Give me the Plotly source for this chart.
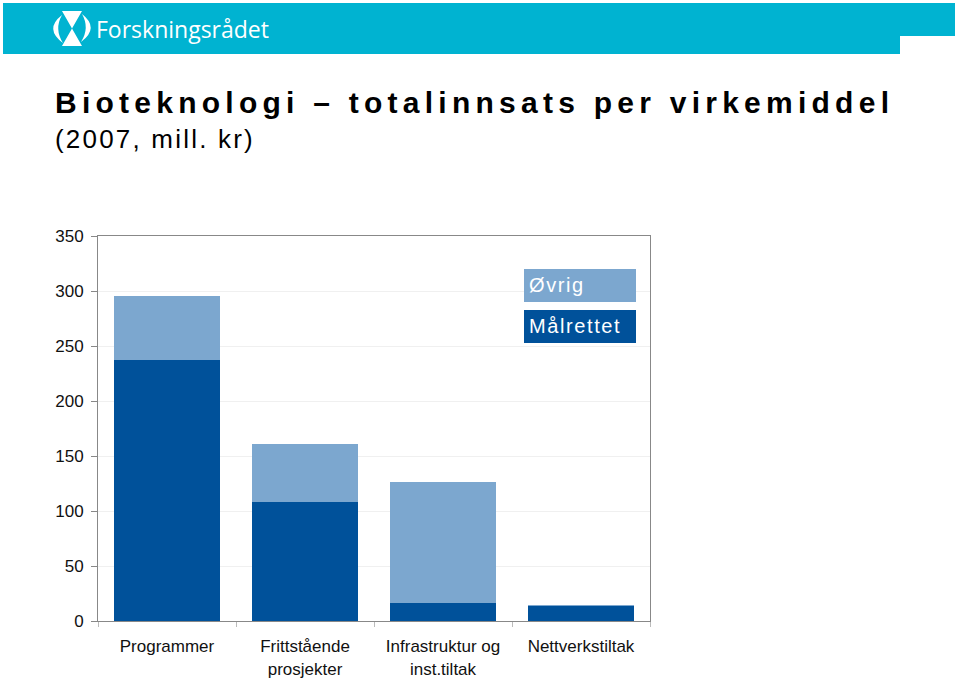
import plotly.graph_objects as go

# ---- data ----
categories = ["Programmer", "Frittstående<br>prosjekter", "Infrastruktur og<br>inst.tiltak", "Nettverkstiltak"]
malrettet = [237, 108, 16.5, 14]
ovrig = [58.5, 53, 110, 0.5]
series_names = ["Målrettet", "Øvrig"]
y_ticks = [0, 50, 100, 150, 200, 250, 300, 350]

DARK = "#00519A"
LIGHT = "#7CA7CF"
CYAN = "#00B3D1"
FONT = "Liberation Sans, Arial, sans-serif"

W, H = 960, 679
L, R, T, B = 98, 310, 236, 58
PW, PH = W - L - R, H - T - B


def px(x):
    return (x - L) / PW


def py(y):
    return (H - B - y) / PH


fig = go.Figure()
fig.add_trace(go.Bar(x=categories, y=malrettet, name=series_names[0], marker=dict(color=DARK, line=dict(width=0))))
fig.add_trace(go.Bar(x=categories, y=ovrig, name=series_names[1], marker=dict(color=LIGHT, line=dict(width=0))))

shapes = []
# header band with notch
pts = [(3, 3), (955, 3), (955, 36), (900, 36), (900, 54), (3, 54)]
path = "M " + " L ".join(f"{px(a):.5f},{py(b):.5f}" for a, b in pts) + " Z"
shapes.append(dict(type="path", xref="paper", yref="paper", path=path, fillcolor=CYAN, line=dict(width=0), layer="above"))

# logo icon (hourglass + arcs)
hg = [(62, 11), (82, 11), (72, 28.5), (82, 46), (62, 46), (72, 28.5)]
path = "M " + " L ".join(f"{px(a):.5f},{py(b):.5f}" for a, b in hg) + " Z"
shapes.append(dict(type="path", xref="paper", yref="paper", path=path, fillcolor="white", line=dict(width=0), layer="above"))
la = f"M {px(62):.5f},{py(15):.5f} Q {px(44):.5f},{py(29):.5f} {px(63):.5f},{py(43):.5f} Q {px(54):.5f},{py(29):.5f} {px(62):.5f},{py(15):.5f} Z"
ra = f"M {px(82):.5f},{py(14):.5f} Q {px(100):.5f},{py(28):.5f} {px(81):.5f},{py(42):.5f} Q {px(90):.5f},{py(28):.5f} {px(82):.5f},{py(14):.5f} Z"
for p in (la, ra):
    shapes.append(dict(type="path", xref="paper", yref="paper", path=p, fillcolor="white", line=dict(width=0), layer="above"))

# legend boxes
shapes.append(dict(type="rect", xref="paper", yref="paper", x0=px(524), x1=px(636), y0=py(302), y1=py(269),
                   fillcolor=LIGHT, line=dict(width=0), layer="above"))
shapes.append(dict(type="rect", xref="paper", yref="paper", x0=px(524), x1=px(636), y0=py(343), y1=py(310),
                   fillcolor=DARK, line=dict(width=0), layer="above"))

annotations = [
    dict(text="Forskningsrådet", x=px(94), y=py(29), xref="paper", yref="paper", xanchor="left", yanchor="middle",
         showarrow=False, align="left", font=dict(family="Open Sans, sans-serif", size=23, color="white")),
    dict(text="<b>Bioteknologi – totalinnsats per virkemiddel</b>", x=px(53), y=py(102), xref="paper", yref="paper",
         xanchor="left", yanchor="middle", showarrow=False, align="left", font=dict(family=FONT, size=30, color="black")),
    dict(text="(2007, mill. kr)", x=px(53), y=py(139), xref="paper", yref="paper",
         xanchor="left", yanchor="middle", showarrow=False, align="left", font=dict(family=FONT, size=26, color="black")),
    dict(text=series_names[1], x=px(527), y=py(285), xref="paper", yref="paper",
         xanchor="left", yanchor="middle", showarrow=False, align="left", font=dict(family=FONT, size=20, color="white")),
    dict(text=series_names[0], x=px(527), y=py(326), xref="paper", yref="paper",
         xanchor="left", yanchor="middle", showarrow=False, align="left", font=dict(family=FONT, size=20, color="white")),
]

fig.update_layout(
    width=W, height=H,
    margin=dict(l=L, r=R, t=T, b=B, pad=0, autoexpand=False),
    barmode="stack", bargap=0.225,
    plot_bgcolor="white", paper_bgcolor="white",
    showlegend=False,
    shapes=shapes, annotations=annotations,
    font=dict(family=FONT, size=17, color="#111"),
    xaxis=dict(type="category", showline=True, linecolor="#888", linewidth=1, mirror=True, automargin=False,
               ticks="outside", tickson="boundaries", ticklen=5, tickcolor="#bbb", ticklabelstandoff=10,
               tickfont=dict(size=17, color="#111"), showgrid=False),
    yaxis=dict(range=[0, 350], tickvals=y_ticks, showline=True, linecolor="#888", linewidth=1, mirror=True,
               automargin=False,
               ticks="outside", ticklen=6, tickcolor="#888", gridcolor="#f0f0f0", gridwidth=1, ticklabelstandoff=4,
               tickfont=dict(size=17, color="#111"), zeroline=False),
)

post = """
var gd=document.getElementById('{plot_id}');
function ls(){
  gd.querySelectorAll('text').forEach(function(t){
    var s=t.textContent;
    if(s.indexOf('Bioteknologi')===0){t.style.letterSpacing='5.25px';}
    else if(s.indexOf('(2007')===0){t.style.letterSpacing='2.2px';}
    else if(s==='Øvrig'||s==='Målrettet'){t.style.letterSpacing='1.6px';}
  });
}
ls();
if(gd.on){gd.on('plotly_afterplot', ls);}
"""

fig.write_html("out.html", post_script=post)
